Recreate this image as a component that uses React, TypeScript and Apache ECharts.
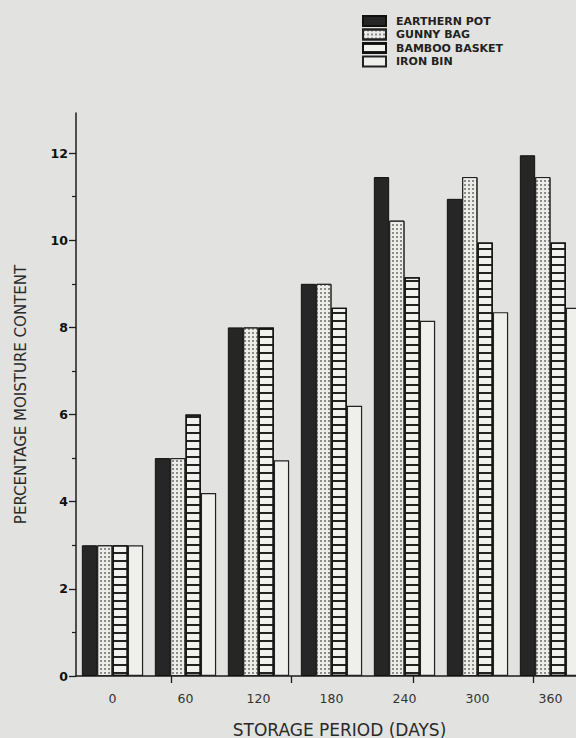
import React, { useEffect, useRef } from "react";
import * as echarts from "echarts";

const categories = ["0", "60", "120", "180", "240", "300", "360"];
const earthernPot = [3, 5, 8, 9, 11.45, 10.95, 11.95];
const gunnyBag = [3, 5, 8, 9, 10.45, 11.45, 11.45];
const bambooBasket = [3, 6, 8, 8.45, 9.15, 9.95, 9.95];
const ironBin = [3, 4.2, 4.95, 6.2, 8.15, 8.35, 8.45];
const seriesNames = ["EARTHERN POT", "GUNNY BAG", "BAMBOO BASKET", "IRON BIN"];
const yMajorTicks = [0, 2, 4, 6, 8, 10, 12];
const yMinorTicks = [1, 3, 5, 7, 9, 11];
const yMax = 12.92;
const xTickDays = [48, 147, 247, 346];
const xDayMin = -30;
const xDayMax = 390;

export default function App() {
  const ref = useRef<HTMLDivElement>(null);
  useEffect(() => {
    if (!ref.current) return;
    const chart = echarts.init(ref.current, null, { renderer: "svg" });
    const ink = "#1c1c1c";
    const font = "DejaVu Sans";
    chart.setOption({
      animation: false,
      backgroundColor: "#e2e2e0",
      legend: {
        orient: "vertical",
        left: 357,
        top: 10,
        itemWidth: 23,
        itemHeight: 10,
        itemGap: 1.5,
        icon: "rect",
        data: seriesNames,
        textStyle: { fontFamily: font, fontSize: 11, fontWeight: "bold", color: "#222", padding: [0, 0, 0, 5] },
      },
      grid: { left: 76, right: -11, top: 113, bottom: 62, containLabel: false, outerBoundsMode: "none" },
      xAxis: [
        {
          type: "category",
          data: categories,
          boundaryGap: true,
          axisLine: { lineStyle: { color: ink, width: 1.5 } },
          axisTick: { show: false },
          axisLabel: { margin: 16, fontFamily: font, fontSize: 12.5, color: "#333" },
          name: "STORAGE PERIOD (DAYS)",
          nameLocation: "middle",
          nameGap: 45,
          nameTextStyle: { fontFamily: font, fontSize: 17, color: "#2a2a2a", padding: [0, 0, 0, 16] },
        },
        {
          type: "value",
          position: "bottom",
          min: xDayMin,
          max: xDayMax,
          axisLine: { show: false },
          axisLabel: { show: false },
          splitLine: { show: false },
          axisTick: { show: true, length: 7, customValues: xTickDays, lineStyle: { color: ink, width: 1.3 } },
        },
      ],
      yAxis: [
        {
          type: "value",
          min: 0,
          max: yMax,
          axisLine: { show: true, onZero: false, lineStyle: { color: ink, width: 1.5 } },
          axisTick: { show: true, length: 7, customValues: yMajorTicks, lineStyle: { color: ink, width: 1.3 } },
          axisLabel: { margin: 8, customValues: yMajorTicks, fontFamily: font, fontSize: 12.5, fontWeight: "bold", color: "#111" },
          splitLine: { show: false },
          name: "PERCENTAGE MOISTURE CONTENT",
          nameLocation: "middle",
          nameGap: 48,
          nameTextStyle: { fontFamily: font, fontSize: 15, color: "#2a2a2a" },
        },
        {
          type: "value",
          position: "left",
          min: 0,
          max: yMax,
          axisLine: { show: false, onZero: false },
          axisLabel: { show: false },
          splitLine: { show: false },
          axisTick: { show: true, length: 4, customValues: yMinorTicks, lineStyle: { color: ink, width: 1.2 } },
        },
      ],
      series: [
        {
          name: seriesNames[0],
          type: "bar",
          data: earthernPot,
          barGap: "0%",
          barCategoryGap: "16%",
          itemStyle: { color: "#262626", borderColor: "#111", borderWidth: 1 },
        },
        {
          name: seriesNames[1],
          type: "bar",
          data: gunnyBag,
          barGap: "0%",
          barCategoryGap: "16%",
          itemStyle: {
            color: "#ecece9",
            borderColor: "#222",
            borderWidth: 1,
            decal: {
              symbol: "circle",
              symbolSize: 0.8,
              dashArrayX: [1.5, 2],
              dashArrayY: [1.5, 2],
              color: "#555",
            },
          },
        },
        {
          name: seriesNames[2],
          type: "bar",
          data: bambooBasket,
          barGap: "0%",
          barCategoryGap: "16%",
          itemStyle: {
            color: "#f1f1ee",
            borderColor: "#111",
            borderWidth: 1.3,
            decal: {
              symbol: "rect",
              symbolSize: 1,
              dashArrayX: [10, 0],
              dashArrayY: [1.2, 5.8],
              color: "#222",
            },
          },
        },
        {
          name: seriesNames[3],
          type: "bar",
          data: ironBin,
          barGap: "0%",
          barCategoryGap: "16%",
          itemStyle: { color: "#efefec", borderColor: "#222", borderWidth: 1.2 },
        },
      ],
    });
    return () => chart.dispose();
  }, []);
  return <div ref={ref} style={{ position: "absolute", left: 0, top: 0, width: 576, height: 738 }} />;
}
